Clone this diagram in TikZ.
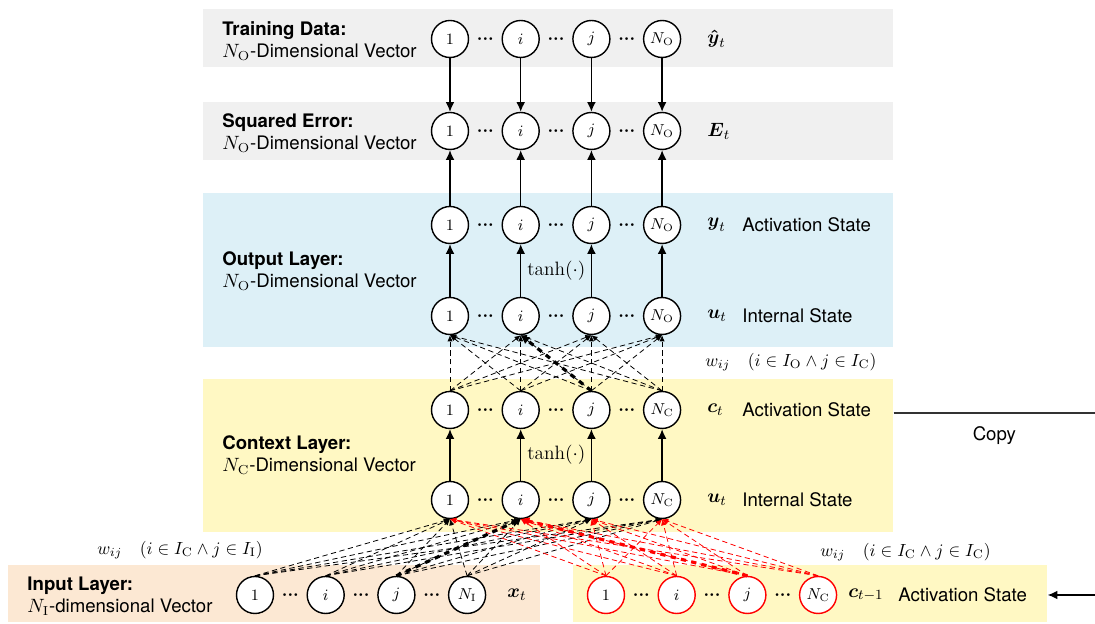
\documentclass[tikz,border=0pt]{standalone}
\usepackage{amsmath,amsfonts}
\usepackage{fontspec}
\setsansfont{TeX Gyre Heros}
\usepackage{tikz}
\usetikzlibrary{shapes,arrows,arrows.meta}
\definecolor{datagray}{RGB}{240,240,240}
\definecolor{outblue}{RGB}{221,240,247}
\definecolor{ctxyellow}{RGB}{255,248,195}
\definecolor{inpeach}{RGB}{252,232,211}
\newcommand{\textsize}{\fontsize{10.6}{12.8}\selectfont}
\newcommand{\bdots}{$\mathord{\boldsymbol{\cdot}}\mathord{\boldsymbol{\cdot}}\mathord{\boldsymbol{\cdot}}$}
\tikzstyle{neuron} = [circle, draw, line width=0.8pt, fill=white,
    minimum size=0.74cm, inner sep=0pt, font=\small]
\tikzstyle{oldneuron} = [neuron, draw=red]
\tikzstyle{dots} = [inner sep=0pt, font=\normalsize]
\tikzstyle{panel} = [rectangle, draw=none, inner sep=0pt, anchor=south west]
\tikzstyle{layertext} = [anchor=west, align=left, inner sep=0pt,
    font=\sffamily\textsize]
\tikzstyle{sym} = [anchor=west, inner sep=0pt, font=\fontsize{11}{13}\selectfont]
\tikzstyle{state} = [anchor=west, inner sep=0pt, font=\sffamily\textsize]
\tikzstyle{line} = [draw, line width=0.8pt, -{Latex[length=5.5pt,width=5pt]}]
\tikzstyle{link} = [draw, densely dashed, line width=0.45pt, -{Latex[length=3.5pt,width=3pt]}]
\tikzstyle{strong link} = [draw, line width=1.8pt, dash pattern=on 3pt off 3pt,
    -{Latex[length=5pt,width=5pt]}]
\tikzstyle{old link} = [link, red]

\begin{document}
\begin{tikzpicture}[node distance=1.414cm, auto]
    \useasboundingbox (0,0) rectangle (21.9,12.48);
    % Layer panels
    \node [panel, fill=datagray, minimum width=13.8cm, minimum height=1.16cm] (databox) at (4.06,11.14) {};
    \node [panel, fill=datagray, minimum width=13.8cm, minimum height=1.16cm] (errbox) at (4.06,9.28) {};
    \node [panel, fill=outblue, minimum width=13.8cm, minimum height=3.08cm] (outbox) at (4.06,5.54) {};
    \node [panel, fill=ctxyellow, minimum width=13.8cm, minimum height=3.06cm] (ctxbox) at (4.06,1.84) {};
    \node [panel, fill=inpeach, minimum width=10.64cm, minimum height=1.14cm] (inbox) at (0.16,0.04) {};
    \node [panel, fill=ctxyellow, minimum width=9.48cm, minimum height=1.14cm] (prevbox) at (11.46,0.04) {};

    % Place nodes
    \node [neuron] (d1) at (9.0,11.70) {$1$};
    \node [neuron, right of=d1] (di) {$i$};
    \node [neuron, right of=di] (dj) {$j$};
    \node [neuron, right of=dj] (dn) {$N_\mathrm{O}$};

    \node [neuron] (e1) at (9.0,9.86) {$1$};
    \node [neuron, right of=e1] (ei) {$i$};
    \node [neuron, right of=ei] (ej) {$j$};
    \node [neuron, right of=ej] (en) {$N_\mathrm{O}$};

    \node [neuron] (y1) at (9.0,7.98) {$1$};
    \node [neuron, right of=y1] (yi) {$i$};
    \node [neuron, right of=yi] (yj) {$j$};
    \node [neuron, right of=yj] (yn) {$N_\mathrm{O}$};

    \node [neuron] (o1) at (9.0,6.16) {$1$};
    \node [neuron, right of=o1] (oi) {$i$};
    \node [neuron, right of=oi] (oj) {$j$};
    \node [neuron, right of=oj] (on) {$N_\mathrm{O}$};

    \node [neuron] (c1) at (9.0,4.28) {$1$};
    \node [neuron, right of=c1] (ci) {$i$};
    \node [neuron, right of=ci] (cj) {$j$};
    \node [neuron, right of=cj] (cn) {$N_\mathrm{C}$};

    \node [neuron] (u1) at (9.0,2.48) {$1$};
    \node [neuron, right of=u1] (ui) {$i$};
    \node [neuron, right of=ui] (uj) {$j$};
    \node [neuron, right of=uj] (un) {$N_\mathrm{C}$};

    \node [neuron] (x1) at (5.10,0.58) {$1$};
    \node [neuron, right of=x1] (xi) {$i$};
    \node [neuron, right of=xi] (xj) {$j$};
    \node [neuron, right of=xj] (xn) {$N_\mathrm{I}$};

    \node [oldneuron] (p1) at (12.12,0.58) {$1$};
    \node [oldneuron, right of=p1] (pi) {$i$};
    \node [oldneuron, right of=pi] (pj) {$j$};
    \node [oldneuron, right of=pj] (pn) {$N_\mathrm{C}$};

    % dots between the units of every row
    \foreach \row in {d,e,y,o,c,u,x,p} {
        \node [dots, right of=\row1, node distance=0.707cm] (\row1i) {\bdots};
        \node [dots, right of=\row i, node distance=0.707cm] (\row ij) {\bdots};
        \node [dots, right of=\row j, node distance=0.707cm] (\row jn) {\bdots};
    }

    % Layer names
    \node [layertext] (datatext) at (4.44,11.66) {\textbf{Training Data:}\\$N_\mathrm{O}$-Dimensional Vector};
    \node [layertext] (errtext) at (4.44,9.82) {\textbf{Squared Error:}\\$N_\mathrm{O}$-Dimensional Vector};
    \node [layertext] (outtext) at (4.44,7.06) {\textbf{Output Layer:}\\$N_\mathrm{O}$-Dimensional Vector};
    \node [layertext] (ctxtext) at (4.44,3.38) {\textbf{Context Layer:}\\$N_\mathrm{C}$-Dimensional Vector};
    \node [layertext] (intext) at (0.54,0.56) {\textbf{Input Layer:}\\$N_\mathrm{I}$-dimensional Vector};

    % Symbols and states on the right
    \node [sym] (dsym) at (14.14,11.70) {$\boldsymbol{\hat{y}}_t$};
    \node [sym] (esym) at (14.14,9.86) {$\boldsymbol{E}_t$};
    \node [sym] (ysym) at (14.14,7.98) {$\boldsymbol{y}_t$};
    \node [sym] (osym) at (14.14,6.16) {$\boldsymbol{u}_t$};
    \node [sym] (csym) at (14.14,4.28) {$\boldsymbol{c}_t$};
    \node [sym] (usym) at (14.14,2.48) {$\boldsymbol{u}_t$};
    \node [sym] (xsym) at (10.14,0.58) {$\boldsymbol{x}_t$};
    \node [sym] (psym) at (16.96,0.58) {$\boldsymbol{c}_{t-1}$};
    \node [state] (ystate) at (14.84,7.98) {Activation State};
    \node [state] (ostate) at (14.84,6.16) {Internal State};
    \node [state] (cstate) at (14.84,4.28) {Activation State};
    \node [state] (ustate) at (14.84,2.48) {Internal State};
    \node [state] (pstate) at (17.96,0.58) {Activation State};

    % Weight labels
    \node [anchor=west, inner sep=0pt] (wout) at (14.10,5.24) {$w_{ij}\quad(i\in I_\mathrm{O}\wedge j\in I_\mathrm{C})$};
    \node [anchor=west, inner sep=0pt] (win) at (1.94,1.48) {$w_{ij}\quad(i\in I_\mathrm{C}\wedge j\in I_\mathrm{I})$};
    \node [anchor=west, inner sep=0pt] (wrec) at (16.40,1.44) {$w_{ij}\quad(i\in I_\mathrm{C}\wedge j\in I_\mathrm{C})$};

    % Feed-forward arrows
    \path [line] (d1) -- (e1);
    \path [line] (di) -- (ei);
    \path [line] (dj) -- (ej);
    \path [line] (dn) -- (en);
    \path [line] (y1) -- (e1);
    \path [line] (yi) -- (ei);
    \path [line] (yj) -- (ej);
    \path [line] (yn) -- (en);
    \path [line] (o1) -- (y1);
    \path [line] (oi) -- node [right, font=\fontsize{11}{13}\selectfont] {$\tanh(\cdot)$} (yi);
    \path [line] (oj) -- (yj);
    \path [line] (on) -- (yn);
    \path [line] (u1) -- (c1);
    \path [line] (ui) -- node [right, font=\fontsize{11}{13}\selectfont] {$\tanh(\cdot)$} (ci);
    \path [line] (uj) -- (cj);
    \path [line] (un) -- (cn);

    % Full connections
    \foreach \a in {c1,ci,cj,cn}
        \foreach \b in {o1,oi,oj,on}
            \path [link] (\a.north) -- (\b.south);
    \foreach \a in {x1,xi,xj,xn}
        \foreach \b in {u1,ui,uj,un}
            \path [link] (\a.north) -- (\b.south);
    \foreach \a in {p1,pi,pj,pn}
        \foreach \b in {u1,ui,uj,un}
            \path [old link] (\a.north) -- (\b.south);
    \path [strong link] (cj.north) -- (oi.south);
    \path [strong link] (xj.north) -- (ui.south);
    \path [strong link, red] (pj.north) -- (ui.south);

    % Copy of the context state
    \coordinate (copyend) at (21.9,4.22);
    \draw [line width=0.8pt, black!80] (ctxbox.east |- copyend) -- node [below=4pt, black, font=\sffamily\textsize] {Copy} (copyend);
    \coordinate (prevsrc) at (21.9,0.58);
    \path [line] (prevsrc) -- (prevbox.east |- prevsrc);
\end{tikzpicture}
\end{document}
